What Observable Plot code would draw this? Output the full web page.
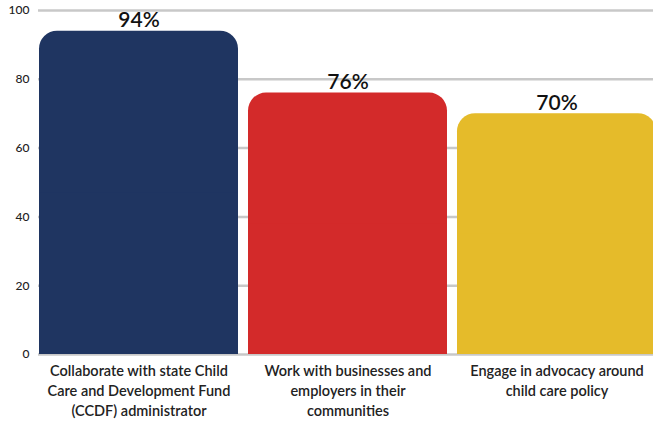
<!DOCTYPE html>
<html>
<head>
<meta charset="utf-8">
<script src="https://cdn.jsdelivr.net/npm/d3@7"></script>
<script src="https://cdn.jsdelivr.net/npm/@observablehq/plot@0.6"></script>
<style>
  html, body { margin: 0; padding: 0; background: #fff; }
  svg { display: block; }
</style>
</head>
<body>
<div id="chart"></div>
<script>
const categories = [
  "Collaborate with state Child\nCare and Development Fund\n(CCDF) administrator",
  "Work with businesses and\nemployers in their\ncommunities",
  "Engage in advocacy around\nchild care policy"
];
const values = [94, 76, 70];
const colors = ["#1f3561", "#d32a2a", "#e5bb2a"];
const yTicks = [0, 20, 40, 60, 80, 100];

const data = categories.map((c, i) => ({cat: c, value: values[i], color: colors[i]}));

const chart = Plot.plot({
  width: 653,
  height: 421,
  marginLeft: 38,
  marginRight: 0,
  marginTop: 10,
  marginBottom: 67,
  style: {fontFamily: "Lato, sans-serif", background: "#fff"},
  x: {domain: categories, range: [38, 656], paddingInner: 0.048, paddingOuter: 0, axis: null},
  y: {domain: [0, 100], axis: null},
  color: {type: "identity"},
  marks: [
    Plot.ruleY(yTicks, {stroke: "#c8c8c8", strokeWidth: 2.5}),
    Plot.axisY({ticks: yTicks, label: null, tickSize: 0, tickPadding: 9, fontSize: 12, fill: "#222", fontWeight: 500}),
    Plot.barY(data, {x: "cat", y: "value", fill: "color", rx: 18}),
    Plot.barY(data, {x: "cat", y1: 0, y2: d => d.value / 2, fill: "color"}),
    Plot.text(data, {x: "cat", y: "value", text: d => d.value + "%", lineAnchor: "bottom", dy: -4, fontSize: 21, fontWeight: 600, fill: "#111"}),
    Plot.text(data, {x: "cat", y: 0, text: "cat", lineAnchor: "top", dy: 7, fontSize: 14.5, fontWeight: 600, lineHeight: 1.38, fill: "#222"})
  ]
});
document.getElementById("chart").appendChild(chart);
</script>
</body>
</html>
